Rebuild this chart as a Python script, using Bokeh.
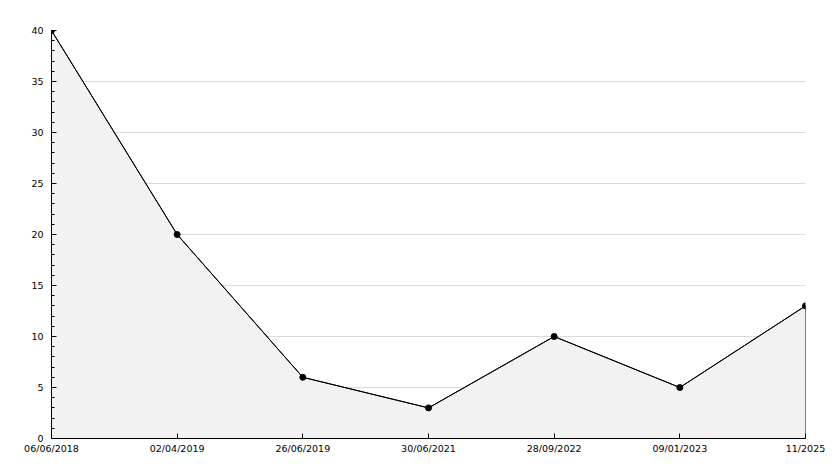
from bokeh.plotting import figure
from bokeh.models import Range1d, FixedTicker, SingleIntervalTicker
from bokeh.embed import file_html
from bokeh.resources import INLINE

dates = ["06/06/2018", "02/04/2019", "26/06/2019", "30/06/2021", "28/09/2022", "09/01/2023", "11/2025"]
values = [40, 20, 6, 3, 10, 5, 13]
y_max = 40

xs = list(range(len(dates)))

p = figure(width=834, height=468, output_backend="svg", toolbar_location=None,
           x_range=Range1d(0, len(dates) - 1), y_range=Range1d(0, y_max),
           min_border_left=51, min_border_right=29, min_border_top=30, min_border_bottom=30)
p.outline_line_color = None
p.background_fill_color = "white"
p.border_fill_color = "white"

# grid
p.xgrid.grid_line_color = None
p.ygrid.grid_line_color = "#dcdcdc"
p.ygrid.grid_line_width = 1

# area
p.patch([xs[0]] + xs + [xs[-1]], [0] + values + [0], fill_color="#f2f2f2",
        line_color="black", line_width=1)
p.line(xs, values, line_color="black", line_width=1)
pts = p.scatter(xs, values, marker="circle", size=6, fill_color="black", line_color="black")
if "clip" in pts.properties():
    pts.clip = False

# axes
p.xaxis.ticker = FixedTicker(ticks=xs)
p.xaxis.major_label_overrides = {i: d for i, d in enumerate(dates)}
p.yaxis.ticker = SingleIntervalTicker(interval=5, num_minor_ticks=5)

for ax in (p.xaxis[0], p.yaxis[0]):
    ax.axis_line_color = "black"
    ax.axis_line_width = 1
    ax.major_tick_line_color = "black"
    ax.minor_tick_line_color = "black"
    ax.major_tick_in = 5
    ax.major_tick_out = 0
    ax.minor_tick_in = 3
    ax.minor_tick_out = 0
    ax.major_label_text_font = "DejaVu Sans"
    ax.major_label_text_font_size = "9.5px"
    ax.major_label_text_color = "black"

p.xaxis.minor_tick_line_color = None
p.xaxis.major_label_standoff = 4
p.yaxis.major_label_standoff = 8

open("out.html", "w").write(file_html(p, INLINE))
